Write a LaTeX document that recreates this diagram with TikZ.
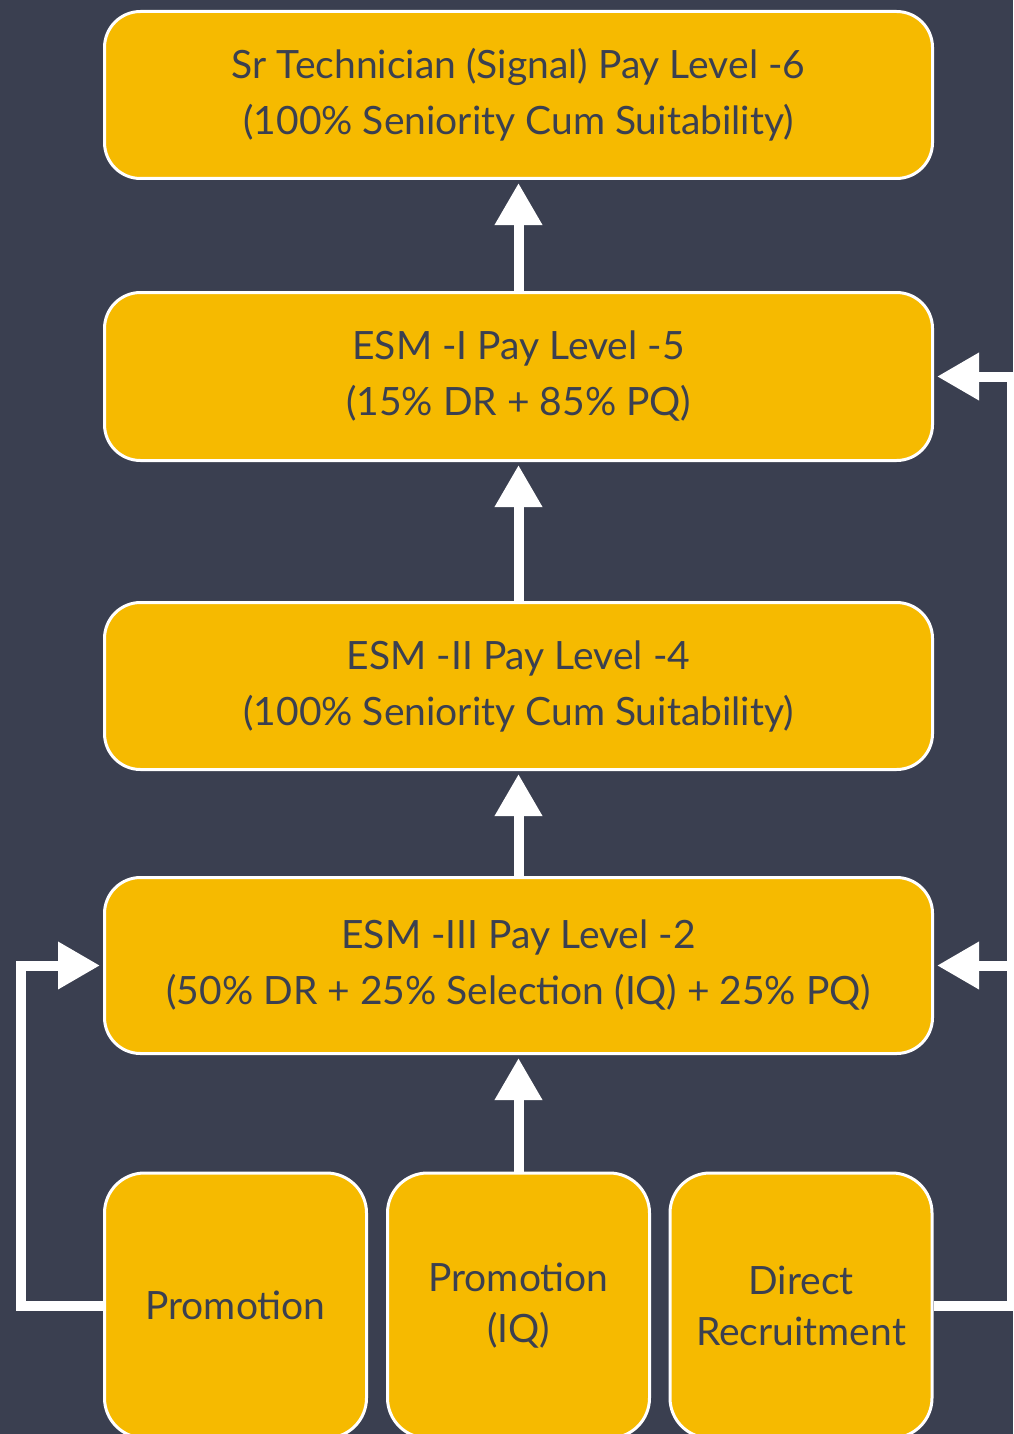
\documentclass[tikz,border=0pt]{standalone}
\usepackage{fontspec}
\setmainfont{Lato}
\usepackage{xcolor}
\definecolor{cBack}{HTML}{3A3F50}
\definecolor{cBox}{HTML}{F6BA00}
\definecolor{cText}{HTML}{3B4050}
\usepackage{tikz}
\usetikzlibrary{positioning,arrows.meta}
\tikzset{
  node-level/.style={draw=white,line width=3pt,fill=cBox,rounded corners=36pt,
    minimum width=828pt,align=center,text=cText},
  node-entry/.style={draw=white,line width=3pt,fill=cBox,rounded corners=40pt,
    minimum width=262pt,minimum height=265pt,align=center,text=cText,
    font=\fontsize{39}{51}\selectfont},
  arrow/.style={-{Triangle[length=42pt,width=45pt]},line width=10pt,draw=white,
    shorten >=3pt},
}
\begin{document}
\begin{tikzpicture}[x=1pt,y=-1pt,font=\fontsize{39}{56}\selectfont]
  \useasboundingbox (0,0) rectangle (1013,1434);
  \fill[cBack] (0,0) rectangle (1013,1434);
  % pay levels
  \node[node-level,minimum height=167pt] (tech) at (518.5,95)
    {Sr Technician (Signal) Pay Level -6\\(100\% Seniority Cum Suitability)};
  \node[node-level,minimum height=168pt] (esm1) at (518.5,376.5)
    {ESM -I Pay Level -5\\(15\% DR + 85\% PQ)};
  \node[node-level,minimum height=167pt] (esm2) at (518.5,686)
    {ESM -II Pay Level -4\\(100\% Seniority Cum Suitability)};
  \node[node-level,minimum height=176pt] (esm3) at (518.5,965.5)
    {ESM -III Pay Level -2\\(50\% DR + 25\% Selection (IQ) + 25\% PQ)};
  % entry routes
  \node[node-entry] (promo)   at (235.5,1305.5) {Promotion};
  \node[node-entry] (promoiq) at (518.5,1305.5) {Promotion\\(IQ)};
  \node[node-entry] (direct)  at (801,1305.5)   {Direct\\Recruitment};
  \coordinate (rail) at (1012,965.5);
  \draw[arrow] (esm1) -- (tech);
  \draw[arrow] (esm2) -- (esm1);
  \draw[arrow] (esm3) -- (esm2);
  \draw[arrow] (promoiq) -- (esm3);
  \draw[arrow] (promo.west) -| (21,965.5) -- (esm3.west);
  \draw[arrow] (direct.east) -| (rail) -- (esm3.east);
  \draw[arrow] (rail) |- (esm1.east);
\end{tikzpicture}
\end{document}
